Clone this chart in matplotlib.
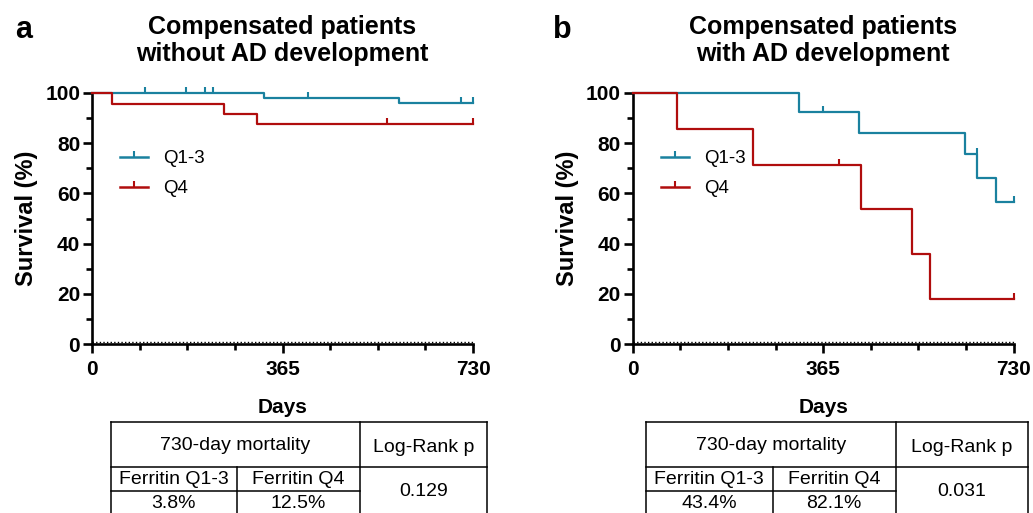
import numpy as np
import matplotlib
matplotlib.use("Agg")
import matplotlib.pyplot as plt
from matplotlib.path import Path
from matplotlib.lines import Line2D
from matplotlib.transforms import offset_copy

plt.rcParams["font.family"] = ["Liberation Sans", "DejaVu Sans"]

# Kaplan-Meier steps (days, survival %)
a_q13_days = [0, 329, 588, 730]
a_q13_surv = [100, 98.1, 96.2, 96.2]
a_q13_censored = [101, 180, 216, 232, 414, 707, 730]
a_q4_days = [0, 38, 253, 316, 730]
a_q4_surv = [100, 95.8, 91.7, 87.5, 87.5]
a_q4_censored = [565, 730]

b_q13_days = [0, 319, 434, 637, 660, 696, 730]
b_q13_surv = [100, 92.3, 84.0, 75.6, 66.0, 56.6, 56.6]
b_q13_censored = [365, 660, 730]
b_q4_days = [0, 85, 231, 437, 535, 570, 730]
b_q4_surv = [100, 85.7, 71.4, 53.6, 35.7, 17.9, 17.9]
b_q4_censored = [395, 730]

panel_letters = ["a", "b"]
panel_titles = ["Compensated patients\nwithout AD development",
                "Compensated patients\nwith AD development"]
group_labels = ["Q1-3", "Q4"]
mortality_q13 = ["3.8%", "43.4%"]
mortality_q4 = ["12.5%", "82.1%"]
logrank_p = ["0.129", "0.031"]

teal = "#1a819f"
red = "#b00d0d"

# upward tick used as the censoring mark
tick = Path([(0, 0), (0, 1)], [Path.MOVETO, Path.LINETO])

W, H = 1033, 513
fig = plt.figure(figsize=(W / 100, H / 100), dpi=100)


def draw_km(ax, days, surv, censored, color):
    ax.step(days, surv, where="post", color=color, lw=1.6, clip_on=False, zorder=3)
    idx = np.searchsorted(days, censored, side="left") - 1
    cy = np.array(surv)[np.clip(idx, 0, None)]
    ax.plot(censored, cy, ls="none", marker=tick, markersize=8,
            markeredgewidth=1.5, color=color, clip_on=False, zorder=3)


panels = [
    ((a_q13_days, a_q13_surv, a_q13_censored), (a_q4_days, a_q4_surv, a_q4_censored)),
    ((b_q13_days, b_q13_surv, b_q13_censored), (b_q4_days, b_q4_surv, b_q4_censored)),
]
lefts = [92, 632.7]
letter_x = [15, 553]

for i, (q13, q4) in enumerate(panels):
    ax = fig.add_axes([lefts[i] / W, 1 - 344 / H, 381 / W, 251 / H])
    draw_km(ax, *q13, teal)
    draw_km(ax, *q4, red)
    # dotted baseline sitting just on top of the x axis
    ax.plot([0, 730], [0, 0], color="k", ls=(0, (1, 1.6)), lw=1.0, clip_on=False,
            zorder=4, transform=offset_copy(ax.transData, fig, y=1.8, units="dots"))

    ax.set_xlim(0, 730)
    ax.set_ylim(0, 100)
    ax.set_xticks([0, 365, 730])
    ax.set_xticks(np.arange(0, 731, 91.25), minor=True)
    ax.set_yticks(np.arange(0, 101, 20))
    ax.set_yticks(np.arange(10, 100, 20), minor=True)
    for s in ["top", "right"]:
        ax.spines[s].set_visible(False)
    for s in ["left", "bottom"]:
        ax.spines[s].set_linewidth(1.9)
    ax.tick_params(which="major", length=6.5, width=1.9, labelsize=15)
    ax.tick_params(which="minor", length=4, width=1.9)
    ax.tick_params(axis="x", which="major", pad=5)
    ax.tick_params(axis="y", which="major", pad=2)
    for lab in ax.get_xticklabels() + ax.get_yticklabels():
        lab.set_fontweight("bold")

    ax.set_xlabel("Days", fontsize=15, fontweight="bold")
    ax.xaxis.set_label_coords(0.5, -0.215)
    ax.set_ylabel("Survival (%)", fontsize=17, fontweight="bold")
    ax.yaxis.set_label_coords(-0.142, 0.5)

    ax.set_title(panel_titles[i], fontsize=18, fontweight="bold",
                 linespacing=1.15, pad=23)
    fig.text(letter_x[i] / W, 1 - 38 / H, panel_letters[i], fontsize=22,
             fontweight="bold", va="baseline")

    handles = [Line2D([], [], color=teal, lw=1.8, marker=tick, markersize=8,
                      markeredgewidth=1.5),
               Line2D([], [], color=red, lw=1.8, marker=tick, markersize=8,
                      markeredgewidth=1.5)]
    ax.legend(handles, group_labels, loc="upper left", frameon=False,
              bbox_to_anchor=(0.03, 0.84), fontsize=13.5, handlelength=1.5,
              handletextpad=0.8, labelspacing=0.7, numpoints=1)

# tables under each panel, drawn in pixel units of the figure
tab = fig.add_axes([0, 0, 1, 1], zorder=-1)
tab.set_xlim(0, W)
tab.set_ylim(H, 0)
tab.axis("off")

col_edges = [[111, 236.7, 360, 486.7], [646, 772.5, 896, 1028]]
row_edges = [422.3, 467.3, 491, 530]
for i in range(2):
    x0, x1, x2, x3 = col_edges[i]
    r0, r1, r2, r3 = row_edges
    kw = dict(color="k", lw=1.1, clip_on=False)
    tab.plot([x0, x3], [r0, r0], **kw)
    tab.plot([x0, x3], [r1, r1], **kw)
    tab.plot([x0, x2], [r2, r2], **kw)
    for x in (x0, x2, x3):
        tab.plot([x, x], [r0, r3], **kw)
    tab.plot([x1, x1], [r1, r3], **kw)

    fs = 14
    tab.text((x0 + x2) / 2, 445, "730-day mortality", ha="center", va="center", fontsize=fs)
    tab.text((x2 + x3) / 2, 447, "Log-Rank p", ha="center", va="center", fontsize=fs)
    tab.text((x0 + x1) / 2, 480, "Ferritin Q1-3", ha="center", va="center", fontsize=fs)
    tab.text((x1 + x2) / 2, 480, "Ferritin Q4", ha="center", va="center", fontsize=fs)
    tab.text((x0 + x1) / 2, 504, mortality_q13[i], ha="center", va="center", fontsize=fs)
    tab.text((x1 + x2) / 2, 504, mortality_q4[i], ha="center", va="center", fontsize=fs)
    tab.text((x2 + x3) / 2, 492, logrank_p[i], ha="center", va="center", fontsize=fs)

fig.savefig("out.png", dpi=100)
